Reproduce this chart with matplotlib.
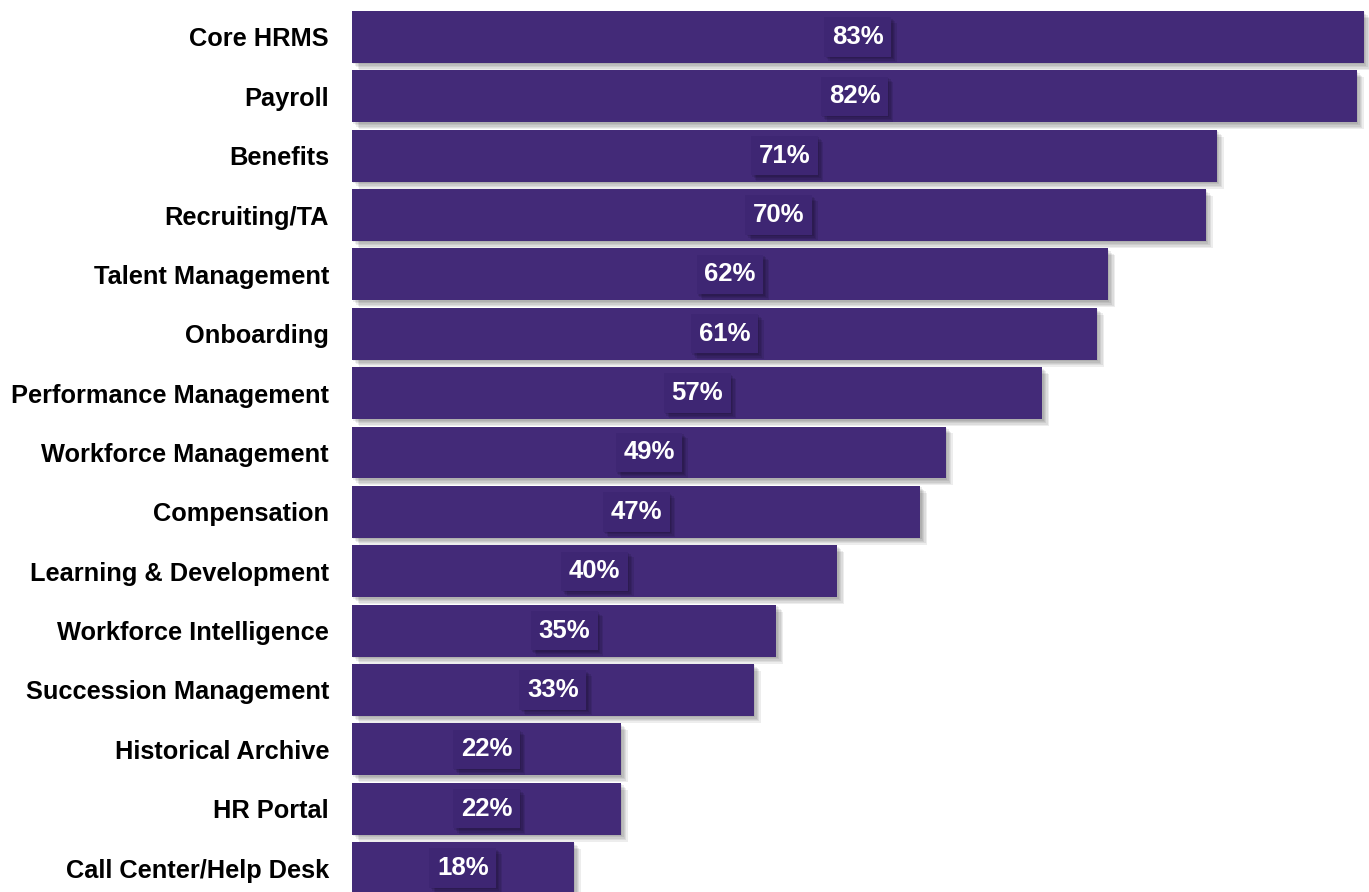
import matplotlib.pyplot as plt
import matplotlib.patheffects as pe

categories = ['Core HRMS', 'Payroll', 'Benefits', 'Recruiting/TA', 'Talent Management',
              'Onboarding', 'Performance Management', 'Workforce Management', 'Compensation',
              'Learning & Development', 'Workforce Intelligence', 'Succession Management',
              'Historical Archive', 'HR Portal', 'Call Center/Help Desk']
# bar lengths (labels show the rounded value)
values = [82.95, 82.4, 70.9, 70.0, 62.0, 61.1, 56.6, 48.7, 46.6, 39.8, 34.8, 32.95, 22.05, 22.05, 18.2]

plt.rcParams['font.family'] = ['Liberation Sans', 'DejaVu Sans']

bar_col = '#432a78'
box_col = '#3e2673'


def soft_shadow(n, alpha):
    # stack of offset shadows to fake a blurred drop shadow
    fx = [pe.SimplePatchShadow(offset=(i, -i), shadow_rgbFace='#000000', alpha=alpha)
          for i in range(n, 0, -1)]
    return fx + [pe.Normal()]


fig = plt.figure(figsize=(13.69, 8.92), dpi=100)
ax = fig.add_axes([352/1369, 0, 1 - 352/1369, 1])

ypos = list(range(len(categories)))
bars = ax.barh(ypos, values, height=0.876, color=bar_col, zorder=2)
for b in bars:
    b.set_path_effects(soft_shadow(5, 0.07))

for y, v in zip(ypos, values):
    t = ax.text(v / 2, y, f'{v:.0f}%', ha='center', va='center', color='white',
                fontsize=18.5, fontweight='bold', zorder=4,
                bbox=dict(boxstyle='square,pad=0.3', fc=box_col, ec='none'))
    t.get_bbox_patch().set_path_effects(soft_shadow(4, 0.09))

ax.set_xlim(0, 83.4)
ax.set_ylim(14.404, -0.623)
ax.set_yticks(ypos)
ax.set_yticklabels(categories, fontsize=18.3, fontweight='bold')
ax.tick_params(axis='y', length=0, pad=16.5)
ax.set_xticks([])
for s in ax.spines.values():
    s.set_visible(False)

fig.savefig('out.png', dpi=100)
